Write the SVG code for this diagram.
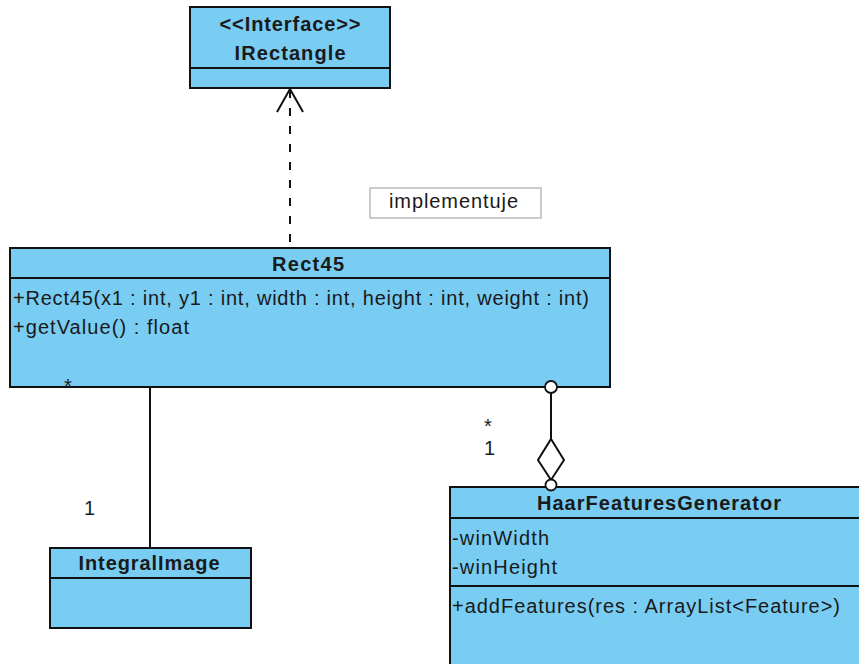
<svg xmlns="http://www.w3.org/2000/svg" width="859" height="664" viewBox="0 0 859 664">
<style>
.box{fill:#79cdf3;stroke:#111;stroke-width:2}
.div{stroke:#111;stroke-width:2}
.t{font-family:"Liberation Sans",Arial,sans-serif;font-size:20px;fill:#1a1a1a}
.b{font-weight:bold;text-anchor:middle}
.line{stroke:#111;stroke-width:2;fill:none}
</style>
<rect width="859" height="664" fill="#fff"/>
<g id="IRectangle">
<rect class="box" x="190" y="7" width="200" height="81"/>
<line class="div" x1="190" y1="68" x2="390" y2="68"/>
<text class="t b" x="290" y="31" textLength="141" lengthAdjust="spacing">&lt;&lt;Interface&gt;&gt;</text>
<text class="t b" x="290" y="60" textLength="111" lengthAdjust="spacing">IRectangle</text>
</g>
<g id="Rect45">
<rect class="box" x="10" y="248" width="600" height="139"/>
<line class="div" x1="10" y1="278" x2="610" y2="278"/>
<text class="t b" x="308" y="271" textLength="72" lengthAdjust="spacing">Rect45</text>
<text class="t" x="13" y="305" textLength="576" lengthAdjust="spacing">+Rect45(x1 : int, y1 : int, width : int, height : int, weight : int)</text>
<text class="t" x="13" y="334" textLength="176" lengthAdjust="spacing">+getValue() : float</text>
</g>
<g id="IntegralImage">
<rect class="box" x="50" y="548" width="201" height="80"/>
<line class="div" x1="50" y1="578" x2="251" y2="578"/>
<text class="t b" x="149" y="570" textLength="141" lengthAdjust="spacing">IntegralImage</text>
</g>
<g id="HaarFeaturesGenerator">
<rect class="box" x="450" y="487" width="420" height="190"/>
<line class="div" x1="450" y1="518" x2="859" y2="518"/>
<line class="div" x1="450" y1="586" x2="859" y2="586"/>
<text class="t b" x="659" y="510" textLength="244" lengthAdjust="spacing">HaarFeaturesGenerator</text>
<text class="t" x="452" y="545" textLength="97" lengthAdjust="spacing">-winWidth</text>
<text class="t" x="452" y="574" textLength="105" lengthAdjust="spacing">-winHeight</text>
<text class="t" x="452" y="613" textLength="388" lengthAdjust="spacing">+addFeatures(res : ArrayList&lt;Feature&gt;)</text>
</g>
<g id="connectors">
<line class="line" x1="290" y1="90" x2="290" y2="247" stroke-dasharray="8,10"/>
<polyline class="line" points="277,112 290,89 303,112"/>
<line class="line" x1="150" y1="388" x2="150" y2="548"/>
<line class="line" x1="551" y1="393" x2="551" y2="439"/>
<circle cx="551" cy="387" r="6" fill="#fff" stroke="#111" stroke-width="1.8"/>
<polygon points="551,439 564,460 551,480 538,460" fill="#fff" stroke="#111" stroke-width="2"/>
<circle cx="551" cy="485" r="5.5" fill="#fff" stroke="#111" stroke-width="1.8"/>
<g id="label-implementuje">
<rect x="370" y="188" width="171" height="30" fill="#fff" stroke="#bbb" stroke-width="1.5"/>
<text class="t" x="389" y="208" textLength="129" lengthAdjust="spacing">implementuje</text>
</g>
<text class="t" x="64" y="393">*</text>
<text class="t" x="84" y="515">1</text>
<text class="t" x="484" y="433">*</text>
<text class="t" x="484" y="455">1</text>
</g>
</svg>
